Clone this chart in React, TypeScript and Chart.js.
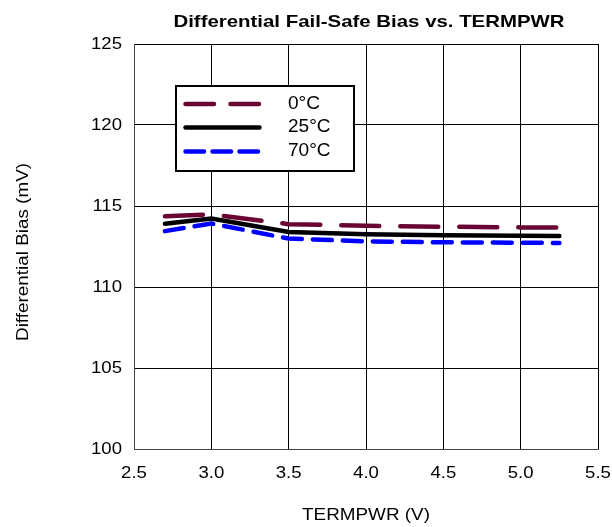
import React, { useEffect, useRef } from "react";
import { Chart, registerables } from "chart.js";

Chart.register(...registerables);

const termpwr = [2.7, 3.0, 3.5, 4.0, 4.5, 5.0, 5.25];
const bias0C = [114.37, 114.48, 113.88, 113.78, 113.72, 113.68, 113.67];
const bias25C = [113.9, 114.23, 113.4, 113.26, 113.2, 113.17, 113.15];
const bias70C = [113.45, 113.92, 112.99, 112.82, 112.76, 112.73, 112.72];
const seriesLabels = ["0°C", "25°C", "70°C"];
const titleText = "Differential Fail-Safe Bias vs. TERMPWR";
const xTitle = "TERMPWR (V)";
const yTitle = "Differential Bias (mV)";

const FONT = "'Liberation Sans', Arial, Helvetica, sans-serif";
const MAROON = "#6a0533";
const BLUE = "#0000ff";

function stretchText(ctx: CanvasRenderingContext2D, s: string, x: number, y: number, font: string, sx: number, align: CanvasTextAlign, rot = 0) {
  ctx.save();
  ctx.translate(x, y);
  if (rot) ctx.rotate(rot);
  ctx.scale(sx, 1);
  ctx.font = font;
  ctx.fillStyle = "#000";
  ctx.textAlign = align;
  ctx.textBaseline = "middle";
  ctx.fillText(s, 0, 0);
  ctx.restore();
}

const textPlugin = {
  id: "textPlugin",
  afterDraw(chart: any) {
    const ctx: CanvasRenderingContext2D = chart.ctx;
    const xs = chart.scales.x;
    const ys = chart.scales.y;
    const ca = chart.chartArea;
    // title
    stretchText(ctx, titleText, 369, 22, `bold 17px ${FONT}`, 1.2, "center");
    // x ticks
    xs.ticks.forEach((t: any) => {
      const px = xs.getPixelForValue(t.value);
      stretchText(ctx, Number(t.value).toFixed(1), px, 474, `16px ${FONT}`, 1.16, "center");
    });
    // y ticks
    ys.ticks.forEach((t: any) => {
      const py = ys.getPixelForValue(t.value);
      stretchText(ctx, String(t.value), 122, py + 0.5, `16px ${FONT}`, 1.16, "right");
    });
    // axis titles
    stretchText(ctx, xTitle, (ca.left + ca.right) / 2, 516, `16px ${FONT}`, 1.18, "center");
    stretchText(ctx, yTitle, 24, 252, `16px ${FONT}`, 1.18, "center", -Math.PI / 2);

    // legend
    ctx.save();
    ctx.fillStyle = "#fff";
    ctx.fillRect(175, 85, 180, 87);
    ctx.strokeStyle = "#000";
    ctx.lineWidth = 2;
    ctx.strokeRect(176, 86, 178, 85);
    ctx.lineCap = "round";
    ctx.lineWidth = 4.5;
    const rows = [104, 127.5, 151.5];
    const colors = [MAROON, "#000", BLUE];
    const dashes = [[28.5, 16.5], [], [18.5, 8.5]];
    rows.forEach((ry, i) => {
      ctx.strokeStyle = colors[i];
      ctx.setLineDash(dashes[i]);
      ctx.beginPath();
      ctx.moveTo(185.5, ry);
      ctx.lineTo(i === 2 ? 258 : 259.5, ry);
      ctx.stroke();
    });
    ctx.restore();
    rows.forEach((ry, i) => {
      stretchText(ctx, seriesLabels[i], 288, ry, `18px ${FONT}`, 1.06, "left");
    });
  },
};

export default function App() {
  const ref = useRef<HTMLCanvasElement>(null);
  useEffect(() => {
    document.body.style.margin = "0";
    const mk = (ys: number[]) => termpwr.map((x, i) => ({ x, y: ys[i] }));
    const chart = new Chart(ref.current!, {
      type: "line",
      data: {
        datasets: [
          { label: seriesLabels[0], data: mk(bias0C), borderColor: MAROON, borderWidth: 4.5, borderDash: [38, 21], borderCapStyle: "round", pointRadius: 0, tension: 0, fill: false },
          { label: seriesLabels[1], data: mk(bias25C), borderColor: "#000", borderWidth: 4.5, borderCapStyle: "round", pointRadius: 0, tension: 0, fill: false },
          { label: seriesLabels[2], data: mk(bias70C), borderColor: BLUE, borderWidth: 4.5, borderDash: [19, 11], borderCapStyle: "round", pointRadius: 0, tension: 0, fill: false },
        ],
      },
      options: {
        animation: false,
        responsive: false,
        devicePixelRatio: 1,
        layout: { padding: { top: 44, right: 14, left: 0, bottom: 0 } },
        plugins: { legend: { display: false }, title: { display: false }, tooltip: { enabled: false } },
        scales: {
          x: {
            type: "linear",
            min: 2.5,
            max: 5.5,
            ticks: { stepSize: 0.5, display: false },
            grid: { color: "#000", lineWidth: 1, drawTicks: false },
            border: { display: true, color: "#444", width: 1 },
            afterFit: (s: any) => { s.height = 78; },
          },
          y: {
            min: 100,
            max: 125,
            ticks: { stepSize: 5, display: false },
            grid: { color: "#000", lineWidth: 1, drawTicks: false },
            border: { display: true, color: "#444", width: 1 },
            afterFit: (s: any) => { s.width = 134; },
          },
        },
      } as any,
      plugins: [textPlugin],
    });
    return () => chart.destroy();
  }, []);
  return (
    <div style={{ width: 612, height: 527 }}>
      <canvas ref={ref} width={612} height={527} style={{ display: "block" }} />
    </div>
  );
}
